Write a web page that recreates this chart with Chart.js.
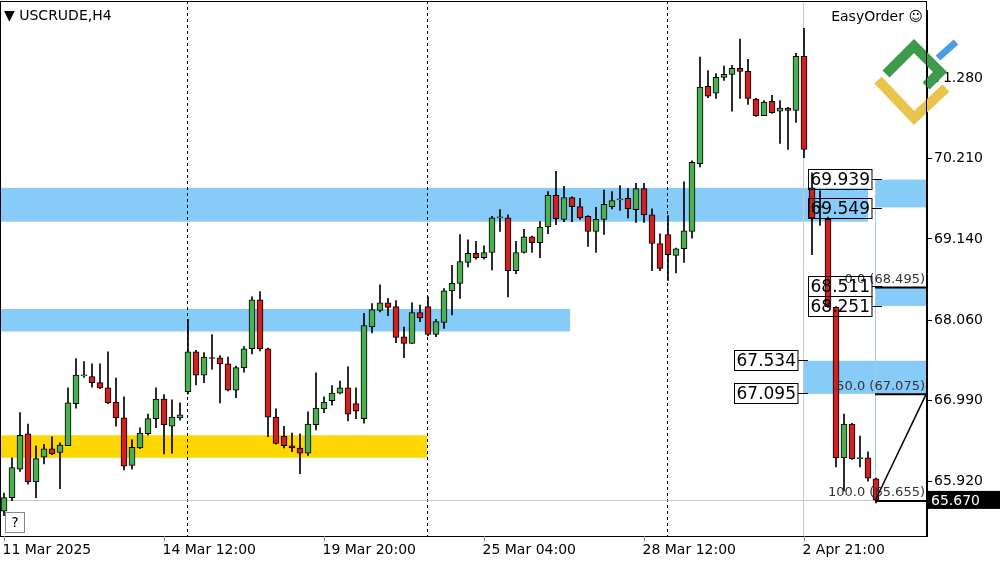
<!DOCTYPE html>
<html>
<head>
<meta charset="utf-8">
<script src="https://cdn.jsdelivr.net/npm/chart.js@4.4.1/dist/chart.umd.min.js"></script>
<style>
  html, body { margin: 0; padding: 0; background: #fff; }
  #wrap { width: 1000px; height: 562px; }
</style>
</head>
<body>
<div id="wrap"><canvas id="myChart"></canvas></div>
<script>
// USCRUDE H4 candles
const opens = [65.52,65.70,66.08,66.55,65.91,66.24,66.35,66.30,66.39,66.95,67.32,67.31,67.23,67.16,66.97,66.76,66.13,66.36,66.55,66.75,
  67.01,66.65,66.76,67.11,67.64,67.33,67.56,67.56,67.48,67.13,67.43,67.68,68.33,67.68,66.77,66.52,66.39,66.36,66.29,66.67,
  66.88,66.99,67.09,67.16,66.95,66.75,67.97,68.19,68.29,68.24,67.84,67.75,68.16,68.24,67.87,68.03,68.45,68.55,68.83,68.95,
  68.89,68.96,69.42,69.42,68.72,68.96,69.17,69.09,69.30,69.72,69.40,69.69,69.57,69.44,69.24,69.40,69.57,69.66,69.68,69.53,
  69.81,69.46,69.08,69.20,68.92,69.01,69.24,70.14,71.17,71.08,71.29,71.33,71.41,71.37,71.00,70.78,70.97,70.84,70.88,70.85,
  71.57,69.82,69.58,69.40,68.23,66.23,66.68,66.22,66.23,65.95];
const highs = [65.76,66.23,66.83,66.68,66.39,66.41,66.51,66.43,67.16,67.55,67.51,67.48,67.48,67.64,67.29,67.04,66.47,66.63,66.81,67.16,
  67.07,67.00,66.96,68.07,67.66,67.63,67.87,67.59,67.57,67.45,67.71,68.37,68.44,67.69,66.88,66.65,66.56,66.55,66.84,67.36,
  67.04,67.19,67.25,67.44,67.16,68.15,68.28,68.53,68.35,68.32,67.97,68.29,68.26,68.37,68.07,68.48,68.79,69.20,69.13,69.11,
  69.05,69.44,69.53,69.46,69.11,69.27,69.18,69.37,69.77,70.04,69.84,69.70,69.68,69.45,69.56,69.79,69.77,69.85,69.81,69.88,
  69.88,69.54,69.21,69.45,69.02,69.90,70.18,71.56,71.38,71.34,71.44,71.45,71.80,71.53,71.01,70.98,71.05,70.98,70.89,71.61,
  71.94,70.02,69.78,69.43,68.24,66.81,66.69,66.52,66.31,65.96];
const lows = [65.46,65.66,66.05,65.88,65.70,66.15,66.27,65.82,66.39,66.89,67.30,67.17,67.15,66.95,66.65,66.07,66.08,66.35,66.53,66.63,
  66.28,66.29,66.73,67.08,67.20,67.23,67.41,66.96,67.12,67.03,67.37,67.61,67.65,66.51,66.41,66.36,66.31,66.02,66.26,66.60,
  66.83,66.93,67.08,66.72,66.75,66.69,67.89,68.17,68.12,67.76,67.56,67.75,68.04,67.85,67.84,67.95,68.13,68.35,68.77,68.87,
  68.87,68.73,69.24,68.37,68.68,68.95,68.96,68.89,69.21,69.33,69.37,69.37,69.40,69.04,68.96,69.20,69.54,69.52,69.42,69.36,
  69.36,68.72,68.72,68.59,68.69,68.83,69.15,70.10,71.02,71.01,71.25,70.84,71.01,70.93,70.77,70.78,70.81,70.41,70.33,70.69,
  70.22,68.93,69.32,68.23,66.11,65.79,66.21,66.11,65.92,65.63];
const closes = [65.70,66.10,66.53,65.91,66.22,66.35,66.28,66.40,66.96,67.33,67.33,67.23,67.16,66.96,66.76,66.12,66.37,66.56,66.75,67.01,
  66.67,66.77,66.80,67.64,67.33,67.57,67.55,67.48,67.13,67.43,67.68,68.33,67.68,66.77,66.42,66.39,66.36,66.29,66.68,66.89,
  66.97,67.09,67.16,66.81,66.85,67.99,68.20,68.29,68.23,67.83,67.75,68.16,68.09,67.87,68.04,68.45,68.55,68.84,68.95,68.89,
  68.96,69.42,69.43,68.72,68.96,69.17,69.09,69.30,69.72,69.41,69.69,69.57,69.42,69.24,69.40,69.60,69.65,69.67,69.54,69.81,
  69.46,69.08,68.75,68.93,69.01,69.25,70.16,71.16,71.04,71.29,71.33,71.41,71.37,71.01,70.78,70.96,70.82,70.88,70.85,71.57,
  70.33,69.42,69.56,68.24,66.23,66.68,66.22,66.23,65.96,65.67];

const timeLabels = ['11 Mar 2025', '14 Mar 12:00', '19 Mar 20:00', '25 Mar 04:00', '28 Mar 12:00', '2 Apr 21:00'];
const timeLabelIdx = [0, 20, 40, 60, 80, 100];
const priceTicks = [71.280, 70.210, 69.140, 68.060, 66.990, 65.920];
const lastPrice = 65.670;

// zones: [fromIdx, toIdx, top, bottom, color]
const zones = [
  [-1, 108.0, 69.82, 69.37, '#87cbf8'],
  [108.9, 116, 69.93, 69.56, '#87cbf8'],
  [-1, 70.75, 68.21, 67.91, '#87cbf8'],
  [-1, 52.9, 66.53, 66.23, '#ffd700'],
  [108.9, 116, 68.49, 68.25, '#87cbf8'],
  [99.9, 116, 67.52, 67.08, '#87cbf8']
];
const weekSeps = [22.875, 52.875, 82.875];
// price boxes: [text, leftIdx, price]
const priceBoxes = [['69.939', 100.5, 69.939], ['69.549', 100.5, 69.549], ['68.511', 100.5, 68.511],
  ['68.251', 100.5, 68.251], ['67.534', 91.3, 67.534], ['67.095', 91.3, 67.095]];
const fibLevels = [['0.0 (68.495)', 68.495], ['50.0 (67.075)', 67.075], ['100.0 (65.655)', 65.655]];

const idx = opens.map((_, i) => i);
const bodyColors = opens.map((o, i) => closes[i] >= o ? '#4caf50' : '#d0201f');

const overlay = {
  id: 'overlay',
  beforeDatasetsDraw(chart) {
    const { ctx, chartArea: a, scales: { x, y } } = chart;
    ctx.save();
    ctx.beginPath(); ctx.rect(a.left, 1, a.right - a.left, a.bottom - 1); ctx.clip();
    zones.forEach(z => {
      const x0 = x.getPixelForValue(z[0]), x1 = x.getPixelForValue(z[1]);
      const y0 = y.getPixelForValue(z[2]), y1 = y.getPixelForValue(z[3]);
      ctx.fillStyle = z[4];
      ctx.fillRect(x0, y0, x1 - x0, y1 - y0);
    });
    ctx.strokeStyle = '#000'; ctx.lineWidth = 1; ctx.setLineDash([3, 3]);
    weekSeps.forEach(v => {
      const px = Math.round(x.getPixelForValue(v)) + 0.5;
      ctx.beginPath(); ctx.moveTo(px, 1); ctx.lineTo(px, a.bottom); ctx.stroke();
    });
    ctx.setLineDash([]);
    // light separators
    ctx.strokeStyle = '#c8c8c8';
    let px = Math.round(x.getPixelForValue(99.875)) + 0.5;
    ctx.beginPath(); ctx.moveTo(px, 1); ctx.lineTo(px, a.bottom); ctx.stroke();
    const ly = Math.round(y.getPixelForValue(lastPrice)) + 0.5;
    ctx.beginPath(); ctx.moveTo(a.left, ly); ctx.lineTo(a.right, ly); ctx.stroke();
    ctx.strokeStyle = '#a8cbe6';
    px = Math.round(x.getPixelForValue(108.875)) + 0.5;
    ctx.beginPath(); ctx.moveTo(px, y.getPixelForValue(69.939)); ctx.lineTo(px, y.getPixelForValue(65.655)); ctx.stroke();
    ctx.restore();
  },
  afterDatasetsDraw(chart) {
    const { ctx, chartArea: a, scales: { x, y } } = chart;
    ctx.save();
    ctx.font = '13px "DejaVu Sans"';
    ctx.textBaseline = 'middle';
    const fx = x.getPixelForValue(108.875);
    // fib lines
    ctx.strokeStyle = '#000'; ctx.lineWidth = 2;
    fibLevels.forEach(f => {
      const py = y.getPixelForValue(f[1]);
      ctx.beginPath(); ctx.moveTo(fx, py); ctx.lineTo(a.right, py); ctx.stroke();
    });
    ctx.lineWidth = 1.5;
    ctx.beginPath(); ctx.moveTo(fx, y.getPixelForValue(65.655)); ctx.lineTo(a.right, y.getPixelForValue(67.1)); ctx.stroke();
    ctx.fillStyle = '#333'; ctx.textAlign = 'right';
    fibLevels.forEach(f => ctx.fillText(f[0], a.right - 2, y.getPixelForValue(f[1]) - 8));
    // price boxes
    ctx.font = '17px "DejaVu Sans"'; ctx.textAlign = 'left';
    ctx.lineWidth = 1;
    priceBoxes.forEach(b => {
      const bx = Math.round(x.getPixelForValue(b[1])) + 0.5;
      const by = Math.round(y.getPixelForValue(b[2])) + 0.5;
      const w = ctx.measureText(b[0]).width + 4;
      ctx.strokeStyle = '#000';
      ctx.strokeRect(bx, by - 10, w, 20);
      ctx.beginPath(); ctx.moveTo(bx + w, by); ctx.lineTo(bx + w + 10, by); ctx.stroke();
      ctx.fillStyle = '#000';
      ctx.fillText(b[0], bx + 2, by + 1);
    });
    // titles
    ctx.font = '14px "DejaVu Sans"';
    ctx.fillStyle = '#000';
    ctx.fillText('\u25BC USCRUDE,H4', 4, 16);
    ctx.textAlign = 'right';
    ctx.fillText('EasyOrder \u263A', a.right - 4, 17);
    // logo
    ctx.lineCap = 'butt'; ctx.lineWidth = 10;
    ctx.strokeStyle = '#e9c44a';
    ctx.beginPath(); ctx.moveTo(878, 80); ctx.lineTo(914, 118); ctx.lineTo(946, 88); ctx.stroke();
    ctx.strokeStyle = '#3d9a4a';
    ctx.beginPath(); ctx.moveTo(886, 74); ctx.lineTo(914, 46); ctx.lineTo(940, 72); ctx.lineTo(926, 86); ctx.stroke();
    ctx.strokeStyle = '#4a9ee0'; ctx.lineWidth = 7;
    ctx.beginPath(); ctx.moveTo(938, 58); ctx.lineTo(956, 42); ctx.stroke();
    // frame
    ctx.strokeStyle = '#000'; ctx.lineWidth = 1;
    ctx.strokeRect(a.left + 0.5, 1.5, a.right - a.left - 1, a.bottom - 1);
    // help box
    ctx.strokeStyle = '#888'; ctx.fillStyle = '#fff';
    ctx.fillRect(5, 512, 19, 20); ctx.strokeRect(5.5, 512.5, 19, 20);
    ctx.fillStyle = '#000'; ctx.textAlign = 'center'; ctx.font = '14px "DejaVu Sans"';
    ctx.fillText('?', 15, 523);
    // time labels
    ctx.font = '14px "DejaVu Sans"'; ctx.textAlign = 'left';
    timeLabelIdx.forEach((v, k) => {
      const tx = Math.round(x.getPixelForValue(v)) + 0.5;
      ctx.beginPath(); ctx.moveTo(tx, a.bottom); ctx.lineTo(tx, a.bottom + 5); ctx.stroke();
      ctx.fillText(timeLabels[k], tx - 2, a.bottom + 14);
    });
    // last price tag
    const ly = y.getPixelForValue(lastPrice);
    ctx.fillStyle = '#000';
    ctx.fillRect(a.right + 1, ly - 9, 72, 18);
    ctx.fillStyle = '#fff';
    ctx.fillText(lastPrice.toFixed(3), a.right + 4, ly + 1);
    ctx.restore();
  }
};

new Chart(document.getElementById('myChart'), {
  type: 'bar',
  data: {
    datasets: [{
      label: 'body',
      data: idx.map(i => ({ x: i, y: [opens[i], closes[i]] })),
      backgroundColor: bodyColors,
      borderColor: '#000',
      borderWidth: 1,
      borderSkipped: false,
      barThickness: 6,
      minBarLength: 1,
      grouped: false,
      order: 0
    }, {
      label: 'wick',
      data: idx.map(i => ({ x: i, y: [lows[i], highs[i]] })),
      backgroundColor: '#000',
      borderWidth: 0,
      barThickness: 1,
      grouped: false,
      order: 1
    }]
  },
  options: {
    responsive: true,
    maintainAspectRatio: false,
    animation: false,
    layout: { padding: 0 },
    plugins: { legend: { display: false }, tooltip: { enabled: false } },
    scales: {
      x: {
        type: 'linear', min: -0.5, max: 115.375, offset: false,
        grid: { display: false }, border: { display: false },
        ticks: { display: false },
        afterFit(s) { s.height = 26; }
      },
      y: {
        position: 'right', min: 65.19, max: 72.18,
        afterBuildTicks(s) { s.ticks = priceTicks.map(v => ({ value: v })); },
        grid: { drawOnChartArea: false, tickLength: 5, color: '#000' },
        border: { color: '#000' },
        ticks: { color: '#000', font: { family: 'DejaVu Sans', size: 14 }, padding: 2,
          callback: v => v.toFixed(3) },
        afterFit(s) { s.width = 73; }
      }
    }
  },
  plugins: [overlay]
});
</script>
</body>
</html>
